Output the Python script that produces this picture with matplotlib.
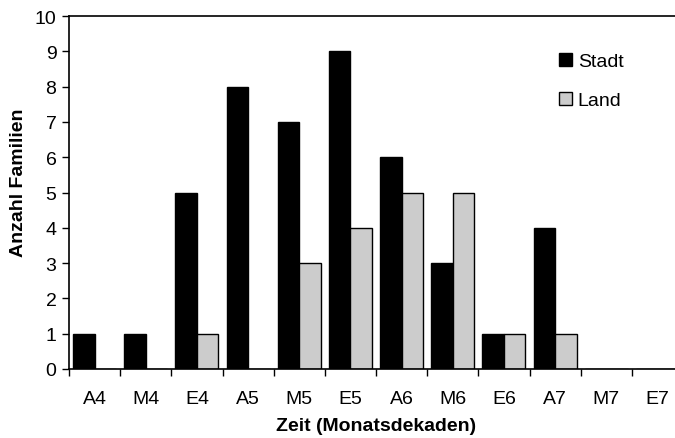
import numpy as np
import matplotlib
matplotlib.use("Agg")
import matplotlib.pyplot as plt

plt.rcParams['font.family'] = ['Liberation Sans', 'DejaVu Sans']

# data
categories = ["A4", "M4", "E4", "A5", "M5", "E5", "A6", "M6", "E6", "A7", "M7", "E7"]
stadt = [1, 1, 5, 8, 7, 9, 6, 3, 1, 4, 0, 0]
land = [0, 0, 1, 0, 3, 4, 5, 5, 1, 1, 0, 0]

fig = plt.figure(figsize=(6.75, 4.39), dpi=100)
ax = fig.add_axes([69 / 675, 69 / 439, 614 / 675, 353 / 439])

x = np.arange(len(categories))
w = 0.42
ax.bar(x - w / 2, stadt, w, color="black", edgecolor="black", linewidth=1, label="Stadt")
ax.bar(x + w / 2, land, w, color="#cccccc", edgecolor="black", linewidth=1, label="Land")

ax.set_xlim(-0.5, len(categories) - 0.5)
ax.set_ylim(0, 10)
ax.set_yticks(range(0, 11))
ax.set_xticks(x)
ax.set_xticklabels(categories)
ax.set_xticks(np.arange(-0.5, len(categories)), minor=True)
ax.tick_params(axis="x", which="major", length=0, pad=15, labelsize=14)
ax.tick_params(axis="x", which="minor", length=5, width=1, direction="out")
ax.tick_params(axis="y", length=5, width=1, direction="out", labelsize=14, pad=4)

for s in ["left", "bottom", "top"]:
    ax.spines[s].set_linewidth(1.2)
ax.spines["right"].set_visible(False)

ax.set_xlabel("Zeit (Monatsdekaden)", fontsize=14, fontweight="bold", labelpad=7)
ax.set_ylabel("Anzahl Familien", fontsize=14, fontweight="bold")
ax.yaxis.set_label_coords(-0.068, 0.53)

ax.legend(loc="upper left", bbox_to_anchor=(0.77, 0.945), frameon=False, fontsize=14,
          handlelength=0.65, handleheight=0.65, handletextpad=0.3, labelspacing=1.1)

fig.savefig("out.png", dpi=100)
